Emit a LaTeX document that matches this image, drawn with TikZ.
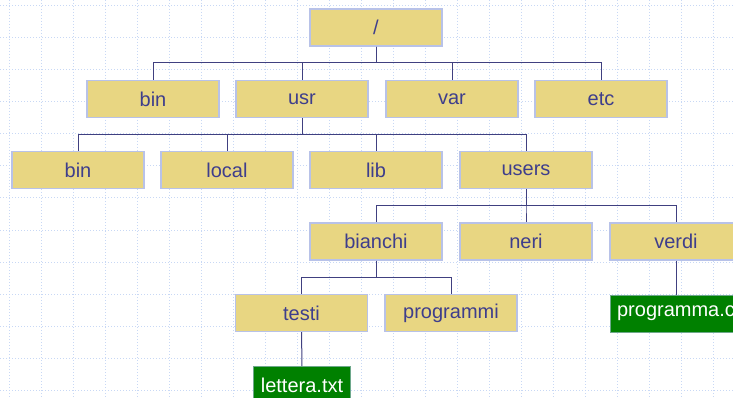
\documentclass[tikz,border=0pt]{standalone}
\usepackage{fontspec}
\setmainfont{Liberation Sans}
\usepackage{tikz}

\definecolor{boxfill}{RGB}{232,214,130}
\definecolor{boxline}{RGB}{184,194,232}
\definecolor{boxtext}{RGB}{62,62,140}
\definecolor{linkcol}{RGB}{64,64,128}
\definecolor{gridcol}{RGB}{200,216,245}
\definecolor{filefill}{RGB}{0,128,0}

\tikzset{
  dir/.style={draw=boxline, line width=1.2pt, fill=boxfill, text=boxtext,
    minimum width=132pt, minimum height=37pt, inner sep=0pt,
    font=\fontsize{20}{24}\selectfont},
  file/.style={draw=boxline!60!filefill, line width=1pt, fill=filefill, text=white,
    minimum height=37pt, inner xsep=7pt, inner ysep=0pt,
    font=\fontsize{20}{24}\selectfont},
  link/.style={draw=linkcol, line width=1pt},
  gridline/.style={draw=gridcol, line width=1pt, dotted}
}

\begin{document}
\begin{tikzpicture}[x=1pt,y=-1pt]
        \useasboundingbox (0,0) rectangle (733,398);
        \clip (0,0) rectangle (733,398);
        \fill[white] (0,0) rectangle (733,398);
        % background grid
        \foreach \x in {9,41,...,713}
            \draw[gridline] (\x,0) -- (\x,398);
        \foreach \y in {6,38,...,390}
            \draw[gridline] (0,\y) -- (733,\y);

        \node[dir] (root) at (376,27.5) {/};

        \node[dir] (bin) at (153,99) {bin};
        \node[dir] (usr) at (302,99) {usr};
        \node[dir] (var) at (452,99) {var};
        \node[dir] (etc) at (601,99) {etc};

        \node[dir] (usrbin) at (78,170) {bin};
        \node[dir] (local) at (227,170) {local};
        \node[dir] (lib) at (376,170) {lib};
        \node[dir] (users) at (526,170) {users};

        \node[dir] (bianchi) at (376,241.5) {bianchi};
        \node[dir] (neri) at (526,241.5) {neri};
        \node[dir] (verdi) at (676,241.5) {verdi};

        \node[dir] (testi) at (301.5,313) {testi};
        \node[dir] (programmi) at (451,313) {programmi};

        \node[file] (lettera) at (302,385) {lettera.txt};
        \node[file] (programma) at (676,313.5) {programma.c};

        \foreach \child in {bin,usr,var,etc}
            \draw[link] (root.south) -- ++(0,16) -| (\child.north);
        \foreach \child in {usrbin,local,lib,users}
            \draw[link] (usr.south) -- ++(0,16) -| (\child.north);
        \foreach \child in {bianchi,neri,verdi}
            \draw[link] (users.south) -- ++(0,16) -| (\child.north);
        \foreach \child in {testi,programmi}
            \draw[link] (bianchi.south) -- ++(0,17) -| (\child.north);
        \draw[link] (testi) -- (lettera);
        \draw[link] (verdi) -- (programma);
    \end{tikzpicture}
\end{document}
